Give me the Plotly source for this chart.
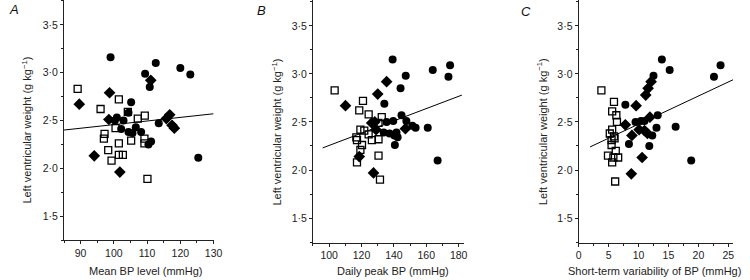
import plotly.graph_objects as go

# ---------------- data ----------------
# Panel A: mean BP level (mmHg) vs LV weight (g/kg)
A_sq_x = [89.1, 101.5, 96.0, 104.2, 109.3, 107.2, 100.5, 97.2, 97.0, 98.3, 101.5, 99.3, 101.5, 102.7, 105.2, 109.2, 109.2, 110.1]
A_sq_y = [2.83, 2.72, 2.62, 2.59, 2.55, 2.52, 2.42, 2.36, 2.31, 2.19, 2.26, 2.08, 2.14, 2.14, 2.29, 2.26, 2.31, 1.89]
A_dia_x = [89.6, 98.7, 98.5, 111.1, 116.8, 115.8, 117.5, 118.2, 94.1, 101.8]
A_dia_y = [2.67, 2.79, 2.51, 2.92, 2.56, 2.52, 2.45, 2.42, 2.13, 1.96]
A_cir_x = [99.0, 112.6, 109.4, 110.8, 120.0, 123.0, 105.2, 104.4, 100.9, 102.9, 100.3, 113.5, 102.2, 104.4, 105.6, 106.6, 108.2, 111.2, 110.4, 125.4]
A_cir_y = [3.16, 3.10, 2.99, 2.85, 3.05, 2.98, 2.69, 2.58, 2.53, 2.50, 2.50, 2.47, 2.41, 2.38, 2.37, 2.43, 2.38, 2.28, 2.25, 2.11]
A_fit_x = [85, 130]
A_fit_y = [2.40, 2.57]

# Panel B: daily peak BP (mmHg)
B_sq_x = [103.4, 120.9, 118.6, 124.4, 132.5, 130.5, 119.3, 121.7, 124.4, 126.4, 130.5, 116.8, 117.2, 119.3, 117.2, 130.5, 131.4, 120.3]
B_sq_y = [2.83, 2.72, 2.62, 2.58, 2.55, 2.49, 2.42, 2.41, 2.37, 2.31, 2.32, 2.34, 2.31, 2.21, 2.08, 2.15, 1.90, 2.26]
B_dia_x = [110.1, 130.0, 135.5, 126.3, 128.2, 147.1, 129.0, 118.6, 127.4]
B_dia_y = [2.67, 2.79, 2.92, 2.49, 2.50, 2.43, 2.42, 2.14, 1.97]
B_cir_x = [139.2, 147.3, 144.1, 134.1, 164.0, 174.7, 173.7, 144.7, 147.7, 151.4, 153.4, 160.9, 135.5, 139.6, 133.7, 137.3, 140.3, 142.3, 140.6, 141.6, 167.0]
B_cir_y = [3.15, 2.98, 2.85, 2.69, 3.04, 3.09, 2.97, 2.57, 2.51, 2.46, 2.44, 2.44, 2.50, 2.51, 2.39, 2.38, 2.36, 2.34, 2.26, 2.39, 2.10]
B_fit_x = [96, 182]
B_fit_y = [2.23, 2.78]

# Panel C: short-term variability of BP (mmHg)
C_sq_x = [3.8, 5.9, 5.6, 6.3, 6.4, 5.6, 5.2, 5.9, 5.5, 6.0, 6.2, 4.9, 5.8, 6.6, 5.6, 6.1, 5.5]
C_sq_y = [2.83, 2.71, 2.61, 2.57, 2.50, 2.42, 2.38, 2.35, 2.31, 2.33, 2.20, 2.15, 2.13, 2.13, 2.08, 1.88, 2.26]
C_dia_x = [9.6, 7.8, 11.9, 11.2, 11.6, 12.1, 8.9, 10.1, 11.0, 11.5, 10.6, 8.8]
C_dia_y = [2.67, 2.47, 2.55, 2.78, 2.85, 2.92, 2.36, 2.42, 2.41, 2.38, 2.13, 1.96]
C_cir_x = [7.8, 9.5, 10.4, 11.0, 13.2, 13.0, 16.2, 12.5, 13.9, 15.2, 23.7, 22.6, 8.4, 12.3, 11.8, 18.8]
C_cir_y = [2.68, 2.50, 2.51, 2.51, 2.57, 2.44, 2.45, 2.98, 3.15, 3.04, 3.09, 2.97, 2.27, 2.36, 2.25, 2.10]
C_fit_x = [1.9, 25.8]
C_fit_y = [2.24, 2.94]

y_tickvals = [1.5, 2.0, 2.5, 3.0, 3.5]
y_ticktext = ["1·5", "2·0", "2·5", "3·0", "3·5"]
A_xticks = [90, 100, 110, 120, 130]
B_xticks = [100, 120, 140, 160, 180]
C_xticks = [0, 5, 10, 15, 20, 25]

panel_letters = ["A", "B", "C"]
x_titles = ["Mean BP level (mmHg)", "Daily peak BP (mmHg)", "Short-term variability of BP (mmHg)"]
y_title = "Left ventricular weight (g kg<sup>−1</sup>)"

# ---------------- figure ----------------
W, H = 750, 280
FONT = "Liberation Sans, Arial, sans-serif"
fig = go.Figure()

panels = [
    dict(sq=(A_sq_x, A_sq_y), dia=(A_dia_x, A_dia_y), cir=(A_cir_x, A_cir_y), fit=(A_fit_x, A_fit_y)),
    dict(sq=(B_sq_x, B_sq_y), dia=(B_dia_x, B_dia_y), cir=(B_cir_x, B_cir_y), fit=(B_fit_x, B_fit_y)),
    dict(sq=(C_sq_x, C_sq_y), dia=(C_dia_x, C_dia_y), cir=(C_cir_x, C_cir_y), fit=(C_fit_x, C_fit_y)),
]

for i, p in enumerate(panels):
    xa = "x" if i == 0 else f"x{i+1}"
    ya = "y" if i == 0 else f"y{i+1}"
    fig.add_trace(go.Scatter(x=p["fit"][0], y=p["fit"][1], mode="lines",
                             line=dict(color="black", width=1), xaxis=xa, yaxis=ya, hoverinfo="skip"))
    fig.add_trace(go.Scatter(x=p["sq"][0], y=p["sq"][1], mode="markers", xaxis=xa, yaxis=ya,
                             marker=dict(symbol="square-open", size=7, color="black", line=dict(width=1.3, color="black"))))
    fig.add_trace(go.Scatter(x=p["dia"][0], y=p["dia"][1], mode="markers", xaxis=xa, yaxis=ya,
                             marker=dict(symbol="diamond", size=9, color="black", line=dict(width=0))))
    fig.add_trace(go.Scatter(x=p["cir"][0], y=p["cir"][1], mode="markers", xaxis=xa, yaxis=ya,
                             marker=dict(symbol="circle", size=8, color="black", line=dict(width=0))))

def px2fx(px):
    return px / W

def py2fy(py):
    return 1 - py / H

x_domains = [(62, 214), (315, 468), (585, 742)]
y_bottoms = [240, 242.7, 242.7]
x_ranges = [[85, 130], [90, 183], [0, 25.8]]
y_ranges = [[1.25, 3.76], [1.243, 3.77], [1.243, 3.77]]
x_ticks = [A_xticks, B_xticks, C_xticks]
x_minor = [5, 10, 2.5]

axis_common = dict(showline=True, linecolor="#222", linewidth=1, ticks="outside", ticklen=3,
                   tickwidth=1, tickcolor="#222", showgrid=False, zeroline=False,
                   tickfont=dict(family=FONT, size=10.5, color="#222"))

layout = dict(width=W, height=H, margin=dict(l=0, r=0, t=0, b=0),
              paper_bgcolor="white", plot_bgcolor="white", showlegend=False,
              font=dict(family=FONT, color="#222"))

for i in range(3):
    xk = "xaxis" if i == 0 else f"xaxis{i+1}"
    yk = "yaxis" if i == 0 else f"yaxis{i+1}"
    ya = "y" if i == 0 else f"y{i+1}"
    xa = "x" if i == 0 else f"x{i+1}"
    layout[xk] = dict(axis_common, domain=[px2fx(x_domains[i][0]), px2fx(x_domains[i][1])],
                      range=x_ranges[i], anchor=ya, tickvals=x_ticks[i],
                      ticktext=[str(v) for v in x_ticks[i]],
                      minor=dict(dtick=x_minor[i], ticks="outside", ticklen=2, tickcolor="#222"))
    layout[yk] = dict(axis_common, domain=[py2fy(y_bottoms[i]), 1], range=y_ranges[i], anchor=xa,
                      tickvals=y_tickvals, ticktext=y_ticktext,
                      minor=dict(dtick=0.25, ticks="outside", ticklen=2, tickcolor="#222"))

fig.update_layout(**layout)

letter_pos = [(11, 10), (263, 11), (532, 12)]
xt_pos = [(145, 271), (396, 271), (662, 271)]
yt_pos = [(24, 130), (278, 132), (548, 132)]
for i in range(3):
    fig.add_annotation(x=px2fx(letter_pos[i][0]), y=py2fy(letter_pos[i][1]), xref="paper", yref="paper",
                       text=f"<i>{panel_letters[i]}</i>", showarrow=False,
                       font=dict(family=FONT, size=13, color="#111"), xanchor="center", yanchor="middle")
    fig.add_annotation(x=px2fx(xt_pos[i][0]), y=py2fy(xt_pos[i][1]), xref="paper", yref="paper",
                       text=x_titles[i], showarrow=False,
                       font=dict(family=FONT, size=11, color="#222"), xanchor="center", yanchor="middle")
    fig.add_annotation(x=px2fx(yt_pos[i][0]), y=py2fy(yt_pos[i][1]), xref="paper", yref="paper",
                       text=y_title, showarrow=False, textangle=-90,
                       font=dict(family=FONT, size=11, color="#222"), xanchor="center", yanchor="middle")

fig.write_html("out.html", config={"displayModeBar": False})

# remove the default page margin so the figure sits at the window's top-left corner
with open("out.html", "r", encoding="utf-8") as f:
    html = f.read()
html = html.replace("<body>", '<body style="margin:0;padding:0;overflow:hidden">', 1)
with open("out.html", "w", encoding="utf-8") as f:
    f.write(html)
